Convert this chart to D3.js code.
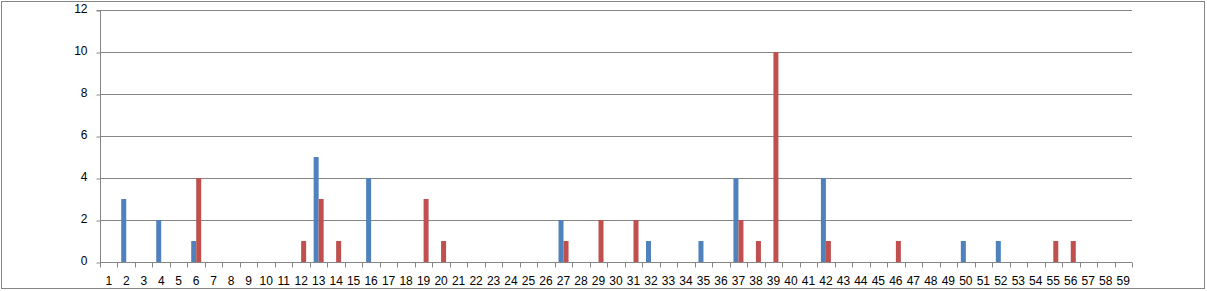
<!DOCTYPE html>
<html><head><meta charset="utf-8">
<script src="https://cdn.jsdelivr.net/npm/d3@7"></script>
<style>body{margin:0;background:#fff}svg{display:block}</style>
</head><body>
<svg id="c" width="1207" height="291"></svg>
<script>
const categories = d3.range(1, 60).map(String);
const series1 = {2:3, 4:2, 6:1, 13:5, 16:4, 27:2, 32:1, 35:1, 37:4, 42:4, 50:1, 52:1};
const series2 = {6:4, 12:1, 13:3, 14:1, 19:3, 20:1, 27:1, 29:2, 31:2, 37:2, 38:1, 39:10, 42:1, 46:1, 55:1, 56:1};
const yTicks = [0, 2, 4, 6, 8, 10, 12];
const seriesNames = ["s1", "s2"];
const colors = ["#4F81BD", "#C0504D"];

const svg = d3.select("#c");
const L = 100, R = 1132, T = 10, B = 262;
svg.append("rect").attr("x", 1.5).attr("y", 1.5).attr("width", 1203).attr("height", 287)
  .attr("fill", "#fff").attr("stroke", "#868686").attr("stroke-width", 1);

const x = d3.scaleBand().domain(categories).range([L, R]).paddingInner(0).paddingOuter(0);
const step = x.bandwidth();
const bw = step / 3.5;
const xs = d3.scaleBand().domain(seriesNames).range([step/2 - bw, step/2 + bw]);
const y = d3.scaleLinear().domain([0, 12]).range([B, T]);

// gridlines
svg.append("g").selectAll("line").data(yTicks.filter(d => d > 0)).join("line")
  .attr("x1", L).attr("x2", R).attr("y1", d => Math.round(y(d)) + 0.5).attr("y2", d => Math.round(y(d)) + 0.5)
  .attr("stroke", "#868686");

const data = [];
categories.forEach(c => {
  if (series1[c]) data.push({c, s: "s1", v: series1[c], col: colors[0]});
  if (series2[c]) data.push({c, s: "s2", v: series2[c], col: colors[1]});
});
svg.append("g").selectAll("rect").data(data).join("rect")
  .attr("x", d => x(d.c) + xs(d.s)).attr("width", xs.bandwidth())
  .attr("y", d => y(d.v)).attr("height", d => B - y(d.v)).attr("fill", d => d.col);

// y axis
const ya = svg.append("g").attr("transform", `translate(${L + 0.5},0.5)`)
  .call(d3.axisLeft(y).tickValues(yTicks).tickSize(4).tickPadding(9).tickFormat(d3.format("d")));
ya.select(".domain").attr("stroke", "#868686").attr("d", `M-4,${T}H0V${B}`);
ya.selectAll(".tick line").attr("stroke", "#868686");
ya.selectAll("text").attr("font-family", "Liberation Sans, Arial, sans-serif").attr("font-size", 12).attr("fill", "#000").attr("dy", "0.2em");

// x axis
const xa = svg.append("g").attr("transform", `translate(0,${B + 0.5})`);
xa.append("line").attr("x1", L).attr("x2", R).attr("stroke", "#868686");
xa.selectAll(".tk").data(categories.concat(["end"])).join("line")
  .attr("x1", (d, i) => Math.round(L + i * step) + 0.5).attr("x2", (d, i) => Math.round(L + i * step) + 0.5)
  .attr("y1", 0).attr("y2", 5).attr("stroke", "#868686");
xa.selectAll("text").data(categories).join("text")
  .attr("x", d => x(d) + step / 2).attr("y", 22).attr("text-anchor", "middle")
  .attr("font-family", "Liberation Sans, Arial, sans-serif").attr("font-size", 12).attr("fill", "#000")
  .text(d => d);
</script>
</body></html>
